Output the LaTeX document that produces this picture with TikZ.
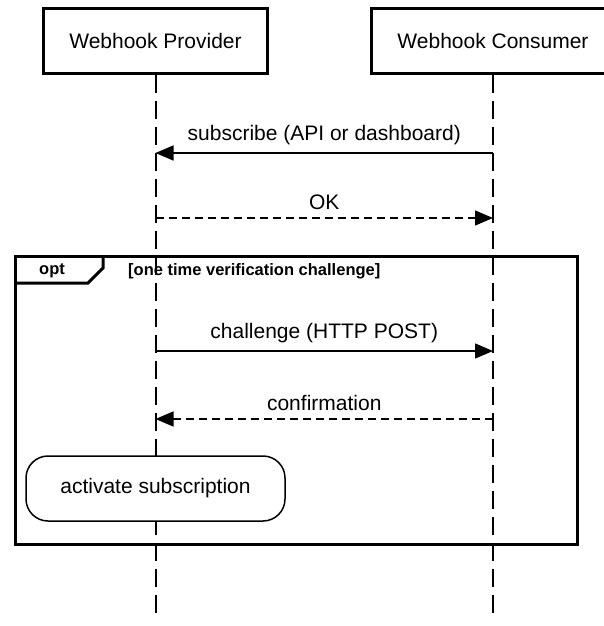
\documentclass[tikz,border=0pt]{standalone}
\usepackage{fontspec}
\setmainfont{Liberation Sans}
\usetikzlibrary{arrows.meta}

\tikzset{
  actor/.style={draw,line width=3pt,minimum height=64pt,inner xsep=26pt,font=\fontsize{21}{24}\selectfont},
  lifeline/.style={line width=2pt,dash pattern=on 18pt off 8pt},
  msg/.style={line width=1.5pt,-{Triangle[length=18pt,width=15pt]}},
  reply/.style={msg,dash pattern=on 8pt off 5pt},
  msglabel/.style={above=4pt,font=\fontsize{21}{24}\selectfont},
  action/.style={draw,fill=white,line width=1.5pt,rounded corners=22pt,minimum width=259pt,minimum height=65pt,font=\fontsize{21}{24}\selectfont}
}

\begin{document}
\begin{tikzpicture}[x=1pt,y=-1pt]
        \useasboundingbox (0,0) rectangle (604,626);

        % participants
        \node[actor] (prov) at (155.5,41) {Webhook Provider};
        \node[actor] (cons) at (493,41) {Webhook Consumer};
        \coordinate (provEnd) at (155.5,620);
        \coordinate (consEnd) at (493,620);
        \draw[lifeline] (prov.south) -- (provEnd);
        \draw[lifeline] (cons.south) -- (consEnd);

        % messages
        \coordinate (p1) at (155.5,153); \coordinate (c1) at (493,153);
        \coordinate (p2) at (155.5,218); \coordinate (c2) at (493,218);
        \coordinate (p3) at (155.5,351); \coordinate (c3) at (493,351);
        \coordinate (p4) at (155.5,419); \coordinate (c4) at (493,419);
        \draw[msg](c1)--(p1)node[midway,msglabel]{subscribe (API or dashboard)};
        \draw[reply](p2)--(c2)node[midway,msglabel]{OK};

        % opt fragment
        \draw[line width=3pt](15,256) rectangle (577,544);
        \draw[line width=3pt](15,283)--(88,283)--(103,268)--(103,256);
        \node[font=\bfseries\fontsize{16.5}{20}\selectfont] (opt) at (52,271) {opt};
        \node[font=\bfseries\fontsize{16.5}{20}\selectfont,anchor=west,inner xsep=0pt] (guard) at (128,271.5) {[one time verification challenge]};

        \draw[msg](p3)--(c3)node[midway,msglabel]{challenge (HTTP POST)};
        \draw[reply](c4)--(p4)node[midway,msglabel]{confirmation};

        \node[action] (activate) at (155.5,488.5) {activate subscription};
    \end{tikzpicture}
\end{document}
